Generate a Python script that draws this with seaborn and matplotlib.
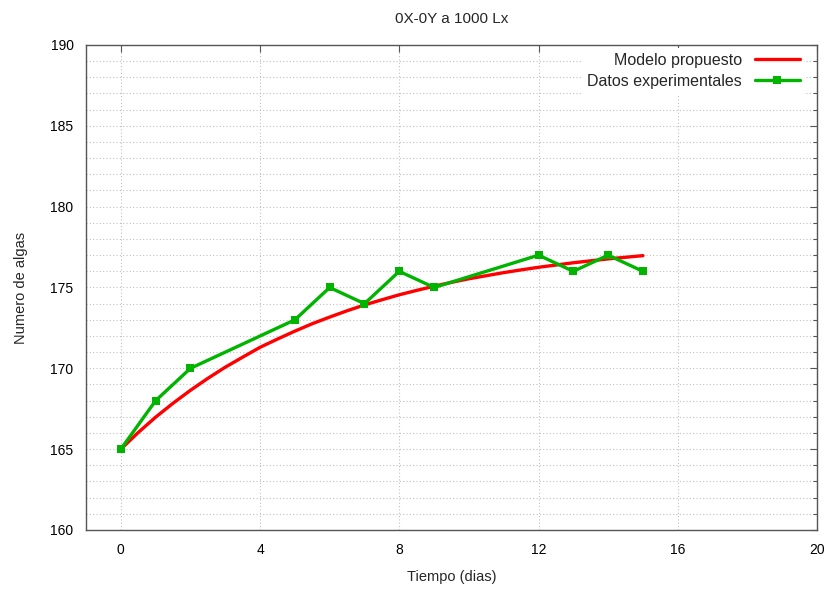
import matplotlib
matplotlib.use("Agg")
import matplotlib.pyplot as plt
from matplotlib.ticker import MultipleLocator
import seaborn as sns
import pandas as pd

# Model curve
model_t = [0, 0.5, 1, 1.5, 2, 2.5, 3, 3.5, 4, 4.5, 5, 5.5, 6, 6.5, 7, 7.5,
           8, 8.5, 9, 9.5, 10, 10.5, 11, 11.5, 12, 12.5, 13, 13.5, 14, 14.5, 15]
model_y = [165.0, 166.03, 166.98, 167.84, 168.64, 169.38, 170.07, 170.69,
           171.3, 171.81, 172.3, 172.76, 173.17, 173.56, 173.92, 174.24,
           174.55, 174.82, 175.08, 175.32, 175.54, 175.73, 175.92, 176.09,
           176.25, 176.39, 176.53, 176.65, 176.77, 176.87, 176.97]

# Experimental data
data_t = [0, 1, 2, 5, 6, 7, 8, 9, 12, 13, 14, 15]
data_y = [165, 168, 170, 173, 175, 174, 176, 175, 177, 176, 177, 176]

sns.set_style("white")
plt.rcParams['font.family'] = ['Liberation Sans', 'DejaVu Sans']

fig = plt.figure(figsize=(8.27, 5.89), dpi=100)
ax = fig.add_axes([86/827, 1 - 530/589, (817-86)/827, (530-45)/589])

df_m = pd.DataFrame({"t": model_t, "y": model_y})
df_d = pd.DataFrame({"t": data_t, "y": data_y})

sns.lineplot(data=df_m, x="t", y="y", ax=ax, color="#ff0000", linewidth=2.4,
             label="Modelo propuesto", zorder=3)
sns.lineplot(data=df_d, x="t", y="y", ax=ax, color="#00b400", linewidth=2.4,
             marker="s", markersize=6, markeredgewidth=0,
             label="Datos experimentales", zorder=4)

ax.set_xlim(-1, 20)
ax.set_ylim(160, 190)
ax.xaxis.set_major_locator(MultipleLocator(4))
ax.yaxis.set_major_locator(MultipleLocator(5))
ax.yaxis.set_minor_locator(MultipleLocator(1))

ax.grid(True, which="major", axis="x", linestyle=(0, (1, 2)), color="#c0c0c0", linewidth=0.8)
ax.grid(True, which="both", axis="y", linestyle=(0, (1, 2)), color="#c0c0c0", linewidth=0.8)
ax.set_axisbelow(True)

for s in ax.spines.values():
    s.set_color("#555555")
    s.set_linewidth(1.0)

ax.tick_params(axis="both", which="both", direction="in", top=True, right=True,
               colors="#555555", labelcolor="black", labelsize=10)
ax.tick_params(which="major", length=5, width=0.8, pad=9)
ax.tick_params(which="minor", length=3, width=0.8)

ax.set_xlabel("Tiempo (dias)", fontsize=10.5, labelpad=10)
ax.set_ylabel("Numero de algas", fontsize=10.5, labelpad=16)
ax.set_title("0X-0Y a 1000 Lx", fontsize=11, pad=16)

leg = ax.legend(loc="upper right", bbox_to_anchor=(0.987, 1.0), markerfirst=False,
                frameon=True, framealpha=1, edgecolor="white", fancybox=False,
                fontsize=11.5, handlelength=2.8, borderpad=0.3, labelspacing=0.38,
                borderaxespad=0.2)
leg.get_frame().set_linewidth(0)

fig.savefig("out.png", dpi=100)
